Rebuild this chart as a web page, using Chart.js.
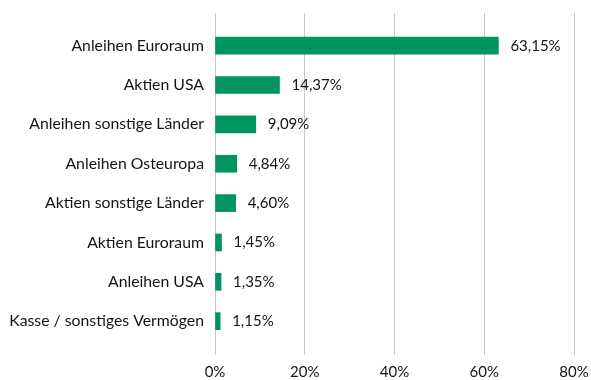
<!DOCTYPE html>
<html>
<head>
<meta charset="utf-8">
<script src="https://cdn.jsdelivr.net/npm/chart.js@4/dist/chart.umd.min.js"></script>
<style>
  html, body { margin: 0; padding: 0; background: #ffffff; }
  #wrap { width: 591px; height: 380px; }
</style>
</head>
<body>
<div id="wrap"><canvas id="c" width="591" height="380"></canvas></div>
<script>
// Portfolio allocation by asset class (percent)
const categories = [
  'Anleihen Euroraum',
  'Aktien USA',
  'Anleihen sonstige Länder',
  'Anleihen Osteuropa',
  'Aktien sonstige Länder',
  'Aktien Euroraum',
  'Anleihen USA',
  'Kasse / sonstiges Vermögen'
];
const shares = [63.15, 14.37, 9.09, 4.84, 4.60, 1.45, 1.35, 1.15];
const axisTicks = [0, 20, 40, 60, 80];

const FONT = 'Lato, "Noto Sans", sans-serif';
const TEXT = '#141414';
const GREEN = '#00945f';
const GRID = '#c9c9c9';

const fmt = v => v.toFixed(2).replace('.', ',') + '%';

// Writes each share next to the end of its bar
const valueLabels = {
  id: 'valueLabels',
  afterDatasetsDraw(chart) {
    const { ctx } = chart;
    const meta = chart.getDatasetMeta(0);
    ctx.save();
    ctx.font = '15px ' + FONT;
    ctx.fillStyle = TEXT;
    ctx.textAlign = 'left';
    ctx.textBaseline = 'middle';
    meta.data.forEach((bar, i) => {
      ctx.fillText(fmt(shares[i]), bar.x + 12, bar.y);
    });
    ctx.restore();
  }
};

new Chart(document.getElementById('c'), {
  type: 'bar',
  data: {
    datasets: [{
      data: shares.map((v, i) => ({ x: v, y: i })),
      backgroundColor: GREEN,
      borderWidth: 0,
      barThickness: 17
    }]
  },
  plugins: [valueLabels],
  options: {
    indexAxis: 'y',
    responsive: false,
    animation: false,
    layout: { padding: { top: 13, right: 17, bottom: 0, left: 0 } },
    plugins: { legend: { display: false }, tooltip: { enabled: false } },
    scales: {
      x: {
        type: 'linear',
        min: 0,
        max: 80,
        afterBuildTicks: s => { s.ticks = axisTicks.map(v => ({ value: v })); },
        afterFit: s => { s.height = 25; s.paddingLeft = 0; s.paddingRight = 0; },
        ticks: {
          callback: v => v + '%',
          color: TEXT,
          font: { family: FONT, size: 15 },
          padding: 8,
          maxRotation: 0
        },
        grid: { color: GRID, lineWidth: 1, drawTicks: false },
        border: { display: false }
      },
      y: {
        type: 'linear',
        reverse: true,
        offset: false,
        min: -0.83,
        max: 7.86,
        afterBuildTicks: s => { s.ticks = categories.map((_, i) => ({ value: i })); },
        afterFit: s => { s.width = 215; s.paddingTop = 0; s.paddingBottom = 0; },
        ticks: {
          callback: v => categories[v],
          color: TEXT,
          font: { family: FONT, size: 15.8 },
          padding: 11,
          autoSkip: false
        },
        grid: { display: false, drawTicks: false, offset: false },
        border: { display: false }
      }
    }
  }
});
</script>
</body>
</html>
